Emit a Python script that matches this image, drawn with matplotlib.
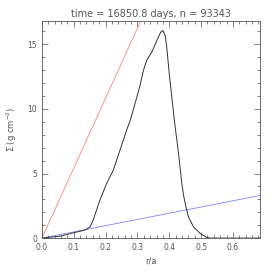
import matplotlib
matplotlib.use('Agg')
import matplotlib.pyplot as plt
from matplotlib.ticker import MultipleLocator

# surface density profile
r = [0.0, 0.057, 0.10, 0.135, 0.151, 0.161, 0.182, 0.203, 0.224, 0.245, 0.266,
     0.277, 0.290, 0.308, 0.319, 0.329, 0.345, 0.361, 0.373, 0.380, 0.387,
     0.392, 0.400, 0.408, 0.416, 0.429, 0.439, 0.445, 0.450, 0.460, 0.476,
     0.497, 0.518, 0.530, 0.60, 0.685]
sigma = [0.0, 0.15, 0.42, 0.62, 0.87, 1.39, 2.94, 4.22, 5.25, 6.8, 8.35,
         9.1, 10.2, 11.8, 13.0, 13.76, 14.4, 15.3, 15.94, 16.07, 15.69,
         14.8, 12.7, 10.9, 9.1, 6.55, 4.3, 3.3, 2.68, 1.65, 0.87,
         0.36, 0.05, 0.0, 0.0, 0.0]

# reference lines through origin
red_x = [0.0, 0.31]
red_y = [0.0, 16.8]
blue_x = [0.0, 0.685]
blue_y = [0.0, 3.3]

title = 'time = 16850.8 days, n = 93343'

fig = plt.figure(figsize=(2.74, 2.74), dpi=100)
ax = fig.add_axes([0.153, 0.131, 0.796, 0.792])
ink = '#555555'

ax.plot(red_x, red_y, color='#ff8080', lw=0.6)
ax.plot(blue_x, blue_y, color='#8080ff', lw=0.6)
ax.plot(r, sigma, color='#333333', lw=0.7)

ax.set_xlim(0, 0.685)
ax.set_ylim(0, 16.8)
ax.xaxis.set_major_locator(MultipleLocator(0.1))
ax.xaxis.set_minor_locator(MultipleLocator(0.02))
ax.yaxis.set_major_locator(MultipleLocator(5))
ax.yaxis.set_minor_locator(MultipleLocator(1))
ax.xaxis.set_major_formatter(plt.FuncFormatter(lambda v, p: '%.1f' % v))
ax.tick_params(which='both', direction='in', top=True, right=True,
               colors=ink, labelsize=5.5, width=0.5)
ax.tick_params(which='major', length=4)
ax.tick_params(which='minor', length=2)
for s in ax.spines.values():
    s.set_color(ink)
    s.set_linewidth(0.6)

ax.set_xlabel('r/a', fontsize=6, color=ink, labelpad=3)
ax.set_ylabel(r'$\Sigma$ (g cm$^{-2}$)', fontsize=6, color=ink, labelpad=6)
ax.set_title(title, fontsize=7, color=ink, pad=3)

fig.savefig('out.png', dpi=100)
